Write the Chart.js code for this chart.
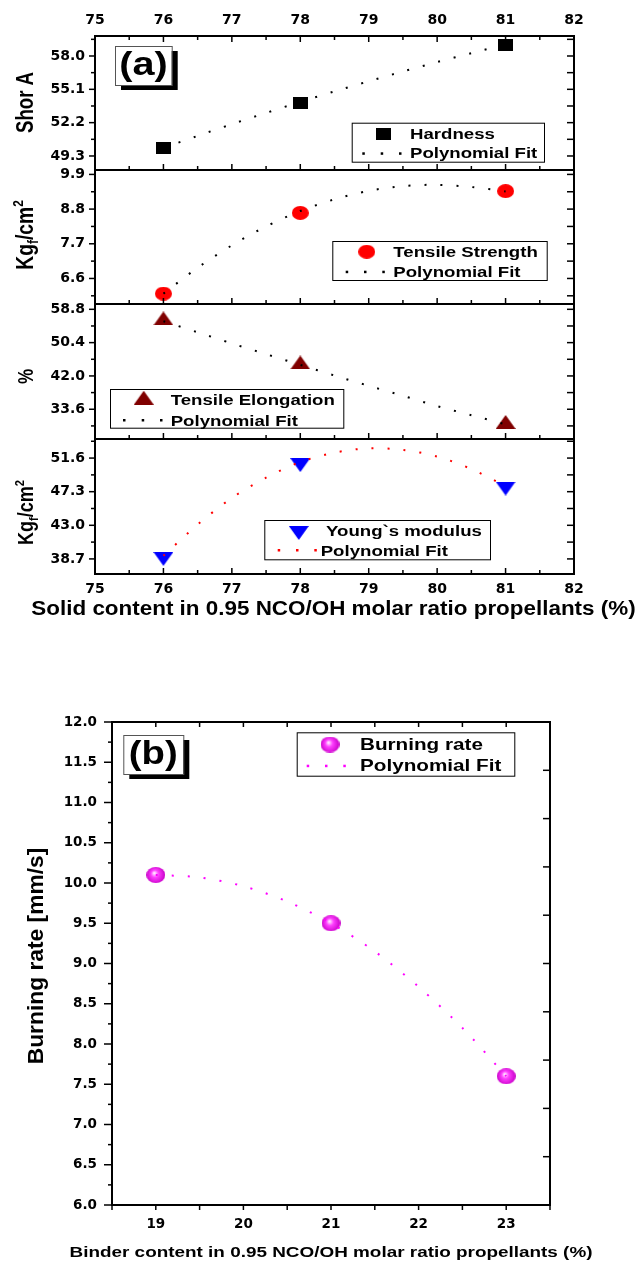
<!DOCTYPE html>
<html>
<head>
<meta charset="utf-8">
<script src="https://cdn.jsdelivr.net/npm/chart.js"></script>
<style>
  html, body { margin: 0; padding: 0; background: #fff; }
  #wrap { position: relative; width: 638px; height: 1261px; }
  #wrap canvas { position: absolute; left: 0; }
</style>
</head>
<body>
<div id="wrap">
  <canvas id="c1" width="638" height="180" style="top:0px"></canvas>
  <canvas id="c2" width="638" height="154" style="top:160px"></canvas>
  <canvas id="c3" width="638" height="155" style="top:294px"></canvas>
  <canvas id="c4" width="638" height="191" style="top:429px"></canvas>
  <canvas id="cb" width="638" height="561" style="top:700px"></canvas>
</div>
<script>
// ---- data (a): solid content vs mechanical properties
var solid = [76, 78, 81];
var hardness = [50.0, 53.9, 59.0];
var tensile = [6.12, 8.68, 9.37];
var elongation = [56.5, 45.4, 30.4];
var young = [38.7, 50.7, 47.7];

// polynomial fit curves
var fitX = [76, 76.5, 77, 77.5, 78, 78.5, 79, 79.5, 80, 80.5, 81];
var hardFit = [50.0, 51.05, 52.07, 53.05, 54.0, 54.92, 55.8, 56.65, 57.47, 58.25, 59.0];
var tensFit = [6.12, 6.94, 7.65, 8.25, 8.74, 9.11, 9.38, 9.53, 9.57, 9.5, 9.36];
var elongFit = [55.8, 53.0, 50.2, 47.5, 44.8, 42.1, 39.5, 37.0, 34.4, 32.1, 29.8];
var youngFit = [39.1, 43.1, 46.5, 49.1, 51.1, 52.3, 52.85, 52.65, 51.8, 50.2, 48.0];

// ---- data (b): binder content vs burning rate
var binder = [19, 21, 23];
var burning = [10.1, 9.5, 7.6];
var binderFitX = [19, 19.5, 20, 20.5, 21, 21.5, 22, 22.5, 23];
var burningFit = [10.1, 10.07, 9.96, 9.77, 9.5, 9.15, 8.71, 8.2, 7.6];

// ---- tick labels
var solidTicks = [75, 76, 77, 78, 79, 80, 81, 82];
var hardTicks = [49.3, 52.2, 55.1, 58.0];
var tensTicks = [6.6, 7.7, 8.8, 9.9];
var elongTicks = [33.6, 42.0, 50.4, 58.8];
var youngTicks = [38.7, 43.0, 47.3, 51.6];
var binderTicks = [19, 20, 21, 22, 23];
var rateTicks = [6.0, 6.5, 7.0, 7.5, 8.0, 8.5, 9.0, 9.5, 10.0, 10.5, 11.0, 11.5, 12.0];
var rateRightTicks = [6.6, 7.2, 7.8, 8.4, 9.0, 9.6, 10.2, 10.8, 11.4];

function pts(xs, ys) {
  return xs.map(function (x, i) { return { x: x, y: ys[i] }; });
}

// marker images (Origin style symbols)
function markerCanvas(w, h, draw) {
  var c = document.createElement('canvas');
  c.width = w; c.height = h;
  draw(c.getContext('2d'), w, h);
  return c;
}
var squareMk = markerCanvas(15, 12, function (g, w, h) { g.fillStyle = '#000'; g.fillRect(0, 0, w, h); });
var circleMk = markerCanvas(17, 14, function (g, w, h) {
  g.fillStyle = '#ff0000'; g.beginPath(); g.ellipse(w / 2, h / 2, w / 2, h / 2, 0, 0, Math.PI * 2); g.fill();
});
var triMk = markerCanvas(20, 14, function (g, w, h) {
  g.fillStyle = '#800000'; g.beginPath(); g.moveTo(w / 2, 0); g.lineTo(w, h); g.lineTo(0, h); g.closePath(); g.fill();
});
var invTriMk = markerCanvas(20, 14, function (g, w, h) {
  g.fillStyle = '#0000ff'; g.beginPath(); g.moveTo(0, 0); g.lineTo(w, 0); g.lineTo(w / 2, h); g.closePath(); g.fill();
});
var ballMk = markerCanvas(19, 16, function (g, w, h) {
  var gr = g.createRadialGradient(w * 0.42, h * 0.38, 0.5, w / 2, h / 2, w / 2);
  gr.addColorStop(0, '#ffe8ff');
  gr.addColorStop(0.35, '#ff40ff');
  gr.addColorStop(1, '#c800c8');
  g.fillStyle = gr; g.beginPath(); g.ellipse(w / 2, h / 2, w / 2, h / 2, 0, 0, Math.PI * 2); g.fill();
});

var BOLD = 'Liberation Sans';
function fontOf(size) { return 'bold ' + size + 'px "' + BOLD + '"'; }

function drawText(ctx, t, oy) {
  ctx.save();
  ctx.translate(t.x, t.y - oy);
  if (t.rot) ctx.rotate(t.rot);
  ctx.scale(t.sx || 1, t.sy || 1);
  ctx.fillStyle = '#000';
  ctx.textBaseline = t.base || 'alphabetic';
  var parts = (Array.isArray(t.text) ? t.text : [t.text]).map(function (p) {
    return typeof p === 'string' ? { t: p } : p;
  });
  var total = 0;
  parts.forEach(function (p) {
    ctx.font = fontOf(t.size * (p.s || 1));
    p.w = ctx.measureText(p.t).width;
    total += p.w;
  });
  var x = t.align === 'left' ? 0 : -total / 2;
  parts.forEach(function (p) {
    ctx.font = fontOf(t.size * (p.s || 1));
    ctx.fillText(p.t, x, (p.dy || 0) * t.size);
    x += p.w;
  });
  ctx.restore();
}

// frame + Origin style ticks (inward / outward)
var framePlugin = {
  id: 'frame',
  afterDraw: function (chart) {
    var spec = frames[chart.canvas.id];
    var ctx = chart.ctx, a = chart.chartArea;
    ctx.save();
    ctx.strokeStyle = '#000';
    ctx.lineWidth = 1.5;
    spec.forEach(function (m) {
      var sc = chart.scales[m.scale];
      var v = m.values, step = v[1] - v[0];
      var list = v.map(function (t) { return [t, m.len]; });
      if (m.minor) {
        for (var i = -1; i < v.length; i++) {
          var t = v[0] + (i + 0.5) * step;
          if (t > sc.min - 1e-9 && t < sc.max + 1e-9) list.push([t, m.minor]);
        }
      }
      list.forEach(function (it) {
        var p = sc.getPixelForValue(it[0]);
        var d = it[1] * m.dir;
        ctx.beginPath();
        if (m.side === 'top') { ctx.moveTo(p, a.top); ctx.lineTo(p, a.top + d); }
        else if (m.side === 'bottom') { ctx.moveTo(p, a.bottom); ctx.lineTo(p, a.bottom - d); }
        else if (m.side === 'left') { ctx.moveTo(a.left, p); ctx.lineTo(a.left + d, p); }
        else { ctx.moveTo(a.right, p); ctx.lineTo(a.right - d, p); }
        ctx.stroke();
      });
    });
    ctx.lineWidth = 2;
    ctx.strokeRect(a.left, a.top, a.right - a.left, a.bottom - a.top);
    ctx.restore();
  }
};

// legends, panel tags and axis titles
var decoPlugin = {
  id: 'deco',
  afterDraw: function (chart) {
    var s = decos[chart.canvas.id];
    var ctx = chart.ctx, oy = s.oy;
    if (s.tag) {
      var b = s.tag.box;
      ctx.save();
      ctx.fillStyle = '#000';
      ctx.fillRect(b[0] + 6, b[1] + 5 - oy, b[2] - b[0], b[3] - b[1]);
      ctx.fillStyle = '#fff';
      ctx.fillRect(b[0], b[1] - oy, b[2] - b[0], b[3] - b[1]);
      ctx.strokeStyle = '#555'; ctx.lineWidth = 1;
      ctx.strokeRect(b[0] + 0.5, b[1] - oy + 0.5, b[2] - b[0], b[3] - b[1]);
      ctx.restore();
      drawText(ctx, s.tag, oy);
    }
    if (s.legend) {
      var L = s.legend, bx = L.box;
      ctx.save();
      ctx.fillStyle = '#fff';
      ctx.fillRect(bx[0], bx[1] - oy, bx[2] - bx[0], bx[3] - bx[1]);
      ctx.strokeStyle = '#000'; ctx.lineWidth = 1;
      ctx.strokeRect(bx[0] + 0.5, bx[1] - oy + 0.5, bx[2] - bx[0], bx[3] - bx[1]);
      L.rows.forEach(function (r) {
        if (r.marker) ctx.drawImage(r.marker, r.mx - r.marker.width / 2, r.my - oy - r.marker.height / 2);
        if (r.dots) {
          ctx.fillStyle = r.dots;
          r.dx.forEach(function (x) { ctx.fillRect(x - 1, r.my - oy - 1, 2.5, 2.5); });
        }
      });
      ctx.restore();
      L.rows.forEach(function (r) {
        drawText(ctx, { text: r.text, x: r.tx, y: r.ty, size: L.size, sx: L.sx, align: 'left' }, oy);
      });
    }
    (s.texts || []).forEach(function (t) { drawText(ctx, t, oy); });
  }
};

var tickFontA = { family: 'DejaVu Sans', size: 14, weight: 'bold' };
var tickFontB = { family: 'DejaVu Sans', size: 13.5, weight: 'bold' };

function yAxis(min, max, ticks, font, gap, width) {
  return {
    type: 'linear', position: 'left', min: min, max: max,
    grid: { display: false, drawTicks: true, tickLength: gap },
    border: { display: false },
    ticks: { font: font, color: '#000', padding: 0, autoSkip: false,
      callback: function (v) { return Number(v).toFixed(1); } },
    afterBuildTicks: function (s) { s.ticks = ticks.map(function (v) { return { value: v }; }); },
    afterFit: function (s) { s.width = width; }
  };
}
function xAxis(min, max, ticks, pos, font, gap, height) {
  return {
    type: 'linear', position: pos || 'bottom', min: min, max: max, display: !!pos,
    grid: { display: false, drawTicks: true, tickLength: gap || 0 },
    border: { display: false },
    ticks: { font: font, color: '#000', padding: 0, autoSkip: false, maxRotation: 0,
      callback: function (v) { return String(v); } },
    afterBuildTicks: function (s) { s.ticks = ticks.map(function (v) { return { value: v }; }); },
    afterFit: function (s) { if (height) s.height = height; }
  };
}

function fitSet(xs, ys, color) {
  return { data: pts(xs, ys), showLine: true, borderColor: color, borderWidth: 2,
    borderDash: [2, 14], pointRadius: 0, tension: 0.3, fill: false, clip: false };
}
function markSet(xs, ys, mk) {
  return { data: pts(xs, ys), showLine: false, pointStyle: mk, pointRadius: 8, clip: false };
}

function aMarks(yt, withTop) {
  var m = [
    { scale: 'x', side: 'bottom', values: solidTicks, len: 6, minor: 4, dir: 1 },
    { scale: 'y', side: 'left', values: yt, len: 6, minor: 4, dir: -1 },
    { scale: 'y', side: 'right', values: yt, len: 7, minor: 7, dir: 1 }
  ];
  if (withTop) m.push({ scale: 'x', side: 'top', values: solidTicks, len: 6, minor: 4, dir: 1 });
  return m;
}

var frames = {
  c1: aMarks(hardTicks, true),
  c2: aMarks(tensTicks),
  c3: aMarks(elongTicks),
  c4: aMarks(youngTicks),
  cb: [
    { scale: 'x', side: 'bottom', values: binderTicks, len: 5, minor: 5, dir: -1 },
    { scale: 'x', side: 'top', values: binderTicks, len: 5, minor: 5, dir: 1 },
    { scale: 'y', side: 'left', values: rateTicks, len: 8, minor: 4, dir: -1 },
    { scale: 'y', side: 'right', values: rateRightTicks, len: 7, minor: 0, dir: 1 }
  ]
};

var kgf = ['Kg', { t: 'f', s: 0.62, dy: 0.22 }, '/cm', { t: '2', s: 0.62, dy: -0.42 }];
var ROT = -Math.PI / 2;

var decos = {
  c1: { oy: 0,
    tag: { box: [115, 46, 171.7, 85], text: '(a)', x: 143.5, y: 66, size: 33, sx: 1.2, base: 'middle' },
    legend: { box: [351.7, 122.7, 544, 161.7], size: 15.4, sx: 1.21, rows: [
      { marker: squareMk, mx: 383.3, my: 133.8, text: 'Hardness', tx: 410, ty: 139.3 },
      { dots: '#000', dx: [363.3, 381.7, 400], my: 153.3, text: 'Polynomial Fit', tx: 410, ty: 158.3 }] },
    texts: [{ text: 'Shor A', x: 33, y: 102.5, rot: ROT, size: 18.6, sy: 1.25 }] },
  c2: { oy: 160,
    legend: { box: [332.3, 241, 546.7, 280], size: 15.4, sx: 1.21, rows: [
      { marker: circleMk, mx: 366.7, my: 251.7, text: 'Tensile Strength', tx: 393.3, ty: 257.3 },
      { dots: '#000', dx: [346.7, 365, 383.3], my: 271.7, text: 'Polynomial Fit', tx: 393.3, ty: 277.3 }] },
    texts: [{ text: kgf, x: 33, y: 235, rot: ROT, size: 19.3, sy: 1.2 }] },
  c3: { oy: 294,
    legend: { box: [110, 389, 343.3, 427.7], size: 15.4, sx: 1.21, rows: [
      { marker: triMk, mx: 143.7, my: 397.7, text: 'Tensile Elongation', tx: 170.7, ty: 405 },
      { dots: '#000', dx: [124, 142.7, 161], my: 420, text: 'Polynomial Fit', tx: 170.7, ty: 425.7 }] },
    texts: [{ text: '%', x: 33, y: 376.5, rot: ROT, size: 17, sy: 1.25 }] },
  c4: { oy: 429,
    legend: { box: [264.3, 520, 490, 559.3], size: 15.4, sx: 1.21, rows: [
      { marker: invTriMk, mx: 298.8, my: 533, text: 'Young`s modulus', tx: 326, ty: 536 },
      { dots: '#ff0000', dx: [278.7, 297, 315.3], my: 550, text: 'Polynomial Fit', tx: 320.7, ty: 555.7 }] },
    texts: [
      { text: kgf, x: 33, y: 512.5, rot: ROT, size: 18, sy: 1.2 },
      { text: 'Solid content in 0.95 NCO/OH molar ratio propellants (%)', x: 333.5, y: 615, size: 19.5, sx: 1.15 }] },
  cb: { oy: 700,
    tag: { box: [123.3, 735, 183.3, 774], text: '(b)', x: 153.3, y: 755, size: 33, sx: 1.16, base: 'middle' },
    legend: { box: [296.7, 732.3, 514.3, 775.7], size: 16.3, sx: 1.27, rows: [
      { marker: ballMk, mx: 330, my: 744.5, text: 'Burning rate', tx: 360, ty: 750 },
      { dots: '#ff00ff', dx: [307.7, 326, 344.3], my: 765.7, text: 'Polynomial Fit', tx: 360, ty: 770.7 }] },
    texts: [
      { text: 'Burning rate [mm/s]', x: 43, y: 956, rot: ROT, size: 22.8 },
      { text: 'Binder content in 0.95 NCO/OH molar ratio propellants (%)', x: 331, y: 1256.7, size: 15, sx: 1.26 }] }
};

function makeChart(id, o) {
  return new Chart(document.getElementById(id), {
    type: 'scatter',
    data: { datasets: o.datasets },
    options: {
      responsive: false, animation: false, devicePixelRatio: 1, events: [],
      layout: { padding: o.padding },
      plugins: { legend: { display: false }, tooltip: { enabled: false } },
      scales: { x: o.x, y: o.y }
    },
    plugins: [framePlugin, decoPlugin]
  });
}

makeChart('c1', {
  padding: { left: 0, right: 64, top: 0, bottom: 10 },
  x: xAxis(75, 82, solidTicks, 'top', tickFontA, 7, 36),
  y: yAxis(48.08, 59.74, hardTicks, tickFontA, 10, 95),
  datasets: [fitSet(fitX, hardFit, '#000'), markSet(solid, hardness, squareMk)]
});
makeChart('c2', {
  padding: { left: 0, right: 64, top: 10, bottom: 10 },
  x: xAxis(75, 82, solidTicks),
  y: yAxis(5.79, 10.04, tensTicks, tickFontA, 10, 95),
  datasets: [fitSet(fitX, tensFit, '#000'), markSet(solid, tensile, circleMk)]
});
makeChart('c3', {
  padding: { left: 0, right: 64, top: 10, bottom: 10 },
  x: xAxis(75, 82, solidTicks),
  y: yAxis(26.1, 60.14, elongTicks, tickFontA, 10, 95),
  datasets: [fitSet(fitX, elongFit, '#000'), markSet(solid, elongation, triMk)]
});
makeChart('c4', {
  padding: { left: 0, right: 64, top: 10, bottom: 0 },
  x: xAxis(75, 82, solidTicks, 'bottom', tickFontA, 7, 46),
  y: yAxis(36.77, 54.04, youngTicks, tickFontA, 10, 95),
  datasets: [fitSet(fitX, youngFit, '#ff0000'), markSet(solid, young, invTriMk)]
});
makeChart('cb', {
  padding: { left: 0, right: 88, top: 22, bottom: 0 },
  x: xAxis(18.5, 23.5, binderTicks, 'bottom', tickFontB, 11, 56),
  y: yAxis(6, 12, rateTicks, tickFontB, 15, 112),
  datasets: [fitSet(binderFitX, burningFit, '#ff00ff'), markSet(binder, burning, ballMk)]
});
</script>
</body>
</html>
